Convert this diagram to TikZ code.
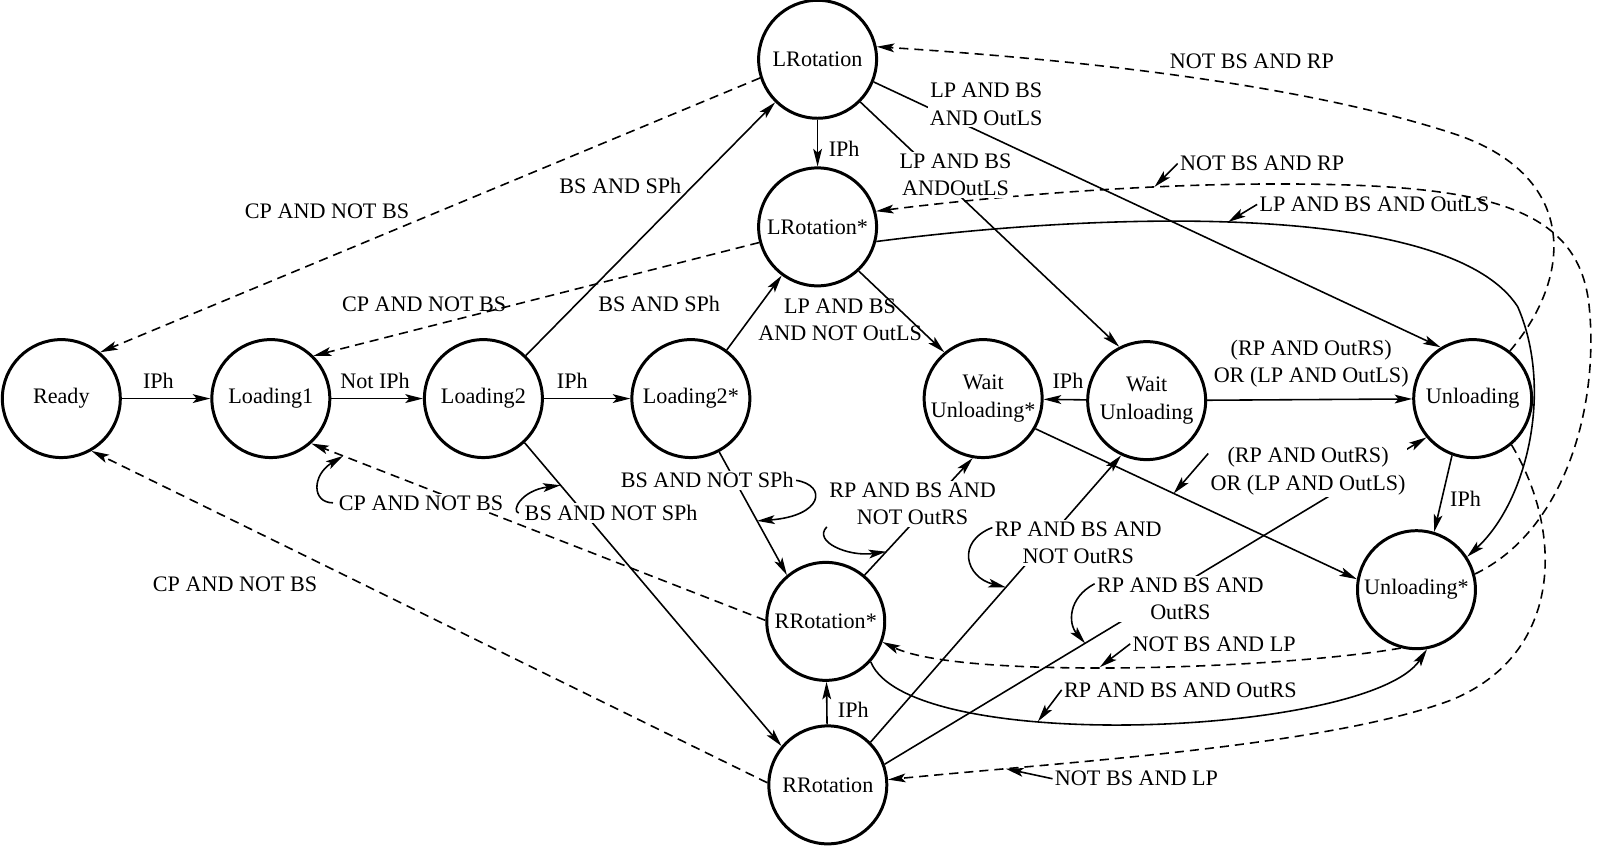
\documentclass[tikz,border=0pt]{standalone}
\usepackage{fontspec}
\setmainfont{Liberation Serif}
\usetikzlibrary{arrows.meta}

\begin{document}
\begin{tikzpicture}[x=0.01022cm, y=-0.01022cm,
    font=\fontsize{6.3}{7.8}\selectfont,
    stnode/.style={circle, draw, line width=0.85pt, minimum size=1.18cm, inner sep=0pt, align=center},
    tr/.style={line width=0.45pt, -{Stealth[length=5pt,width=2.5pt,inset=1.1pt]}},
    cp/.style={tr, dash pattern=on 2.6pt off 1.7pt},
    lbl/.style={inner sep=0.5pt, align=center},
    lblw/.style={lbl, fill=white}]
    \useasboundingbox (0,0) rectangle (1564.6,830.7);

    % states
    \node[stnode] (ready)  at (60,390)   {Ready};
    \node[stnode] (load1)  at (265,390)  {Loading1};
    \node[stnode] (load2)  at (473,390)  {Loading2};
    \node[stnode] (load2s) at (676,390)  {Loading2*};
    \node[stnode] (lrot)   at (800,58)   {LRotation};
    \node[stnode] (lrots)  at (800,222)  {LRotation*};
    \node[stnode] (waits)  at (962,390)  {Wait\\Unloading*};
    \node[stnode] (wait)   at (1122,392) {Wait\\Unloading};
    \node[stnode] (unld)   at (1441,390) {Unloading};
    \node[stnode] (unlds)  at (1386,577) {Unloading*};
    \node[stnode] (rrots)  at (808,608)  {RRotation*};
    \node[stnode] (rrot)   at (810,768)  {RRotation};

    % solid transitions
    \draw[tr] (ready) -- (load1);
    \draw[tr] (load1) -- (load2);
    \draw[tr] (load2) -- (load2s);
    \draw[tr] (load2) -- (lrot);
    \draw[tr] (load2s) -- (lrots);
    \draw[tr] (lrot) -- (lrots);
    \draw[tr] (lrot.-45) -- (wait.117);
    \draw[tr] (lrot.-22) -- (unld.122);
    \draw[tr] (lrots.-47) -- (waits.130);
    \draw[tr] (lrots.-14) .. controls (1100,205) and (1420,200) .. (1485,300) coordinate[pos=.45] (p10)
        .. controls (1520,380) and (1495,490) .. (unlds.33);
    \draw[tr] (wait) -- (waits);
    \draw[tr] (wait) -- (unld);
    \draw[tr] (waits.-30) -- (unlds.170) coordinate[pos=.43] (p13);
    \draw[tr] (unld.-110) -- (unlds.73);
    \draw[tr] (load2s.-62) -- (rrots.130) coordinate[pos=.56] (p15);
    \draw[tr] (load2.-47) -- (rrot.140) coordinate[pos=.14] (p16);
    \draw[tr] (rrots.50) -- (waits.-100) coordinate[pos=.2] (p26);
    \draw[tr] (rrot.45) -- (wait.-115) coordinate[pos=.54] (p27);
    \draw[tr] (rrot.20) -- (unld.-140) coordinate[pos=.37] (p28);
    \draw[tr] (rrot) -- (rrots);
    \draw[tr] (rrots.-42) .. controls (890,740) and (1340,720) .. (unlds.-80) coordinate[pos=.36] (p25);

    % dashed transitions
    \draw[cp] (rrots.179) -- (load1.-48) coordinate[pos=.93] (p17);
    \draw[cp] (rrot.178) -- (ready.-60);
    \draw[cp] (lrot.198) -- (ready.50);
    \draw[cp] (lrots.195) -- (load1.45);
    \draw[cp] (unld.52) .. controls (1540,270) and (1545,170) .. (1420,130)
        .. controls (1250,75) and (1000,55) .. (lrot.12);
    \draw[cp] (unlds.15) .. controls (1530,520) and (1565,400) .. (1555,300)
        .. controls (1545,200) and (1450,180) .. (1250,180)
        .. controls (1100,180) and (950,195) .. (lrots.15) coordinate[pos=.27] (p22);
    \draw[cp] (unld.-50) .. controls (1530,520) and (1530,640) .. (1420,685)
        .. controls (1300,730) and (1050,745) .. (rrot.5) coordinate[pos=.8] (p23);
    \draw[cp] (unlds.-105) .. controls (1250,655) and (940,665) .. (rrots.-20) coordinate[pos=.54] (p24);

    % labels
    \node[lbl] (t1) at (155,373) {IPh};
    \node[lbl] (t2) at (367,373) {Not IPh};
    \node[lbl] (t3) at (560,373) {IPh};
    \node[lbl] (t4) at (607,182) {BS AND SPh};
    \node[lbl] (t5) at (645,297) {BS AND SPh};
    \node[lbl] (t6) at (826,146) {IPh};
    \node[lblw] (t7) at (935,171) {LP AND BS\\ANDOutLS};
    \node[lblw] (t8) at (965,102) {LP AND BS\\AND OutLS};
    \node[lbl] (t9) at (822,313) {LP AND BS\\AND NOT OutLS};
    \node[lbl] (t10) at (1345,200) {LP AND BS AND OutLS};
    \node[lbl] (t11) at (1045,373) {IPh};
    \node[lbl] (t12) at (1283,356) {(RP AND OutRS)\\OR (LP AND OutLS)};
    \node[lbl] (t14) at (1434,488) {IPh};
    \node[lblw] (t15) at (692,470) {BS AND NOT SPh};
    \node[lblw] (t16) at (598,502) {BS AND NOT SPh};
    \node[lblw] (t17) at (412,492) {CP AND NOT BS};
    \node[lbl] (t18) at (230,572) {CP AND NOT BS};
    \node[lbl] (t19) at (320,207) {CP AND NOT BS};
    \node[lbl] (t20) at (415,298) {CP AND NOT BS};
    \node[lbl] (t21) at (1225,60) {NOT BS AND RP};
    \node[lbl] (t22) at (1235,160) {NOT BS AND RP};
    \node[lbl] (t23) at (1112,762) {NOT BS AND LP};
    \node[lbl] (t24) at (1188,630) {NOT BS AND LP};
    \node[lbl] (t25) at (1155,675) {RP AND BS AND OutRS};
    \node[lblw] (t26) at (893,493) {RP AND BS AND\\NOT OutRS};
    \node[lblw] (t27) at (1055,531) {RP AND BS AND\\NOT OutRS};
    \node[lblw] (t28) at (1155,586) {RP AND BS AND\\OutRS};
    \node[lblw] (t28b) at (1280,461) {(RP AND OutRS)\\OR (LP AND OutLS)};
    \node[lbl] (t29) at (835,695) {IPh};

    % pointers from labels
    \draw[tr] (t10.west) -- (p10);
    \draw[tr] (t22.west) -- (p22);
    \draw[tr] (t23.west) -- (p23);
    \draw[tr] (t24.west) -- (p24);
    \draw[tr] (t25.west) -- (p25);
    \draw[tr] (t28b.170) -- (p13);
    \draw[tr] ([xshift=-1pt]t17.west) .. controls (305,492) and (305,465) .. (p17);
    \draw[tr] ([xshift=-1pt]t16.west) .. controls (500,500) and (510,480) .. (p16);
    \draw[tr] (t15.east) .. controls (810,475) and (805,505) .. (p15);
    \draw[tr] (t26.195) .. controls (795,530) and (830,545) .. (p26);
    \draw[tr] (t27.170) .. controls (935,530) and (945,565) .. (p27);
    \draw[tr] (t28.170) .. controls (1045,585) and (1045,610) .. (p28);
\end{tikzpicture}
\end{document}
